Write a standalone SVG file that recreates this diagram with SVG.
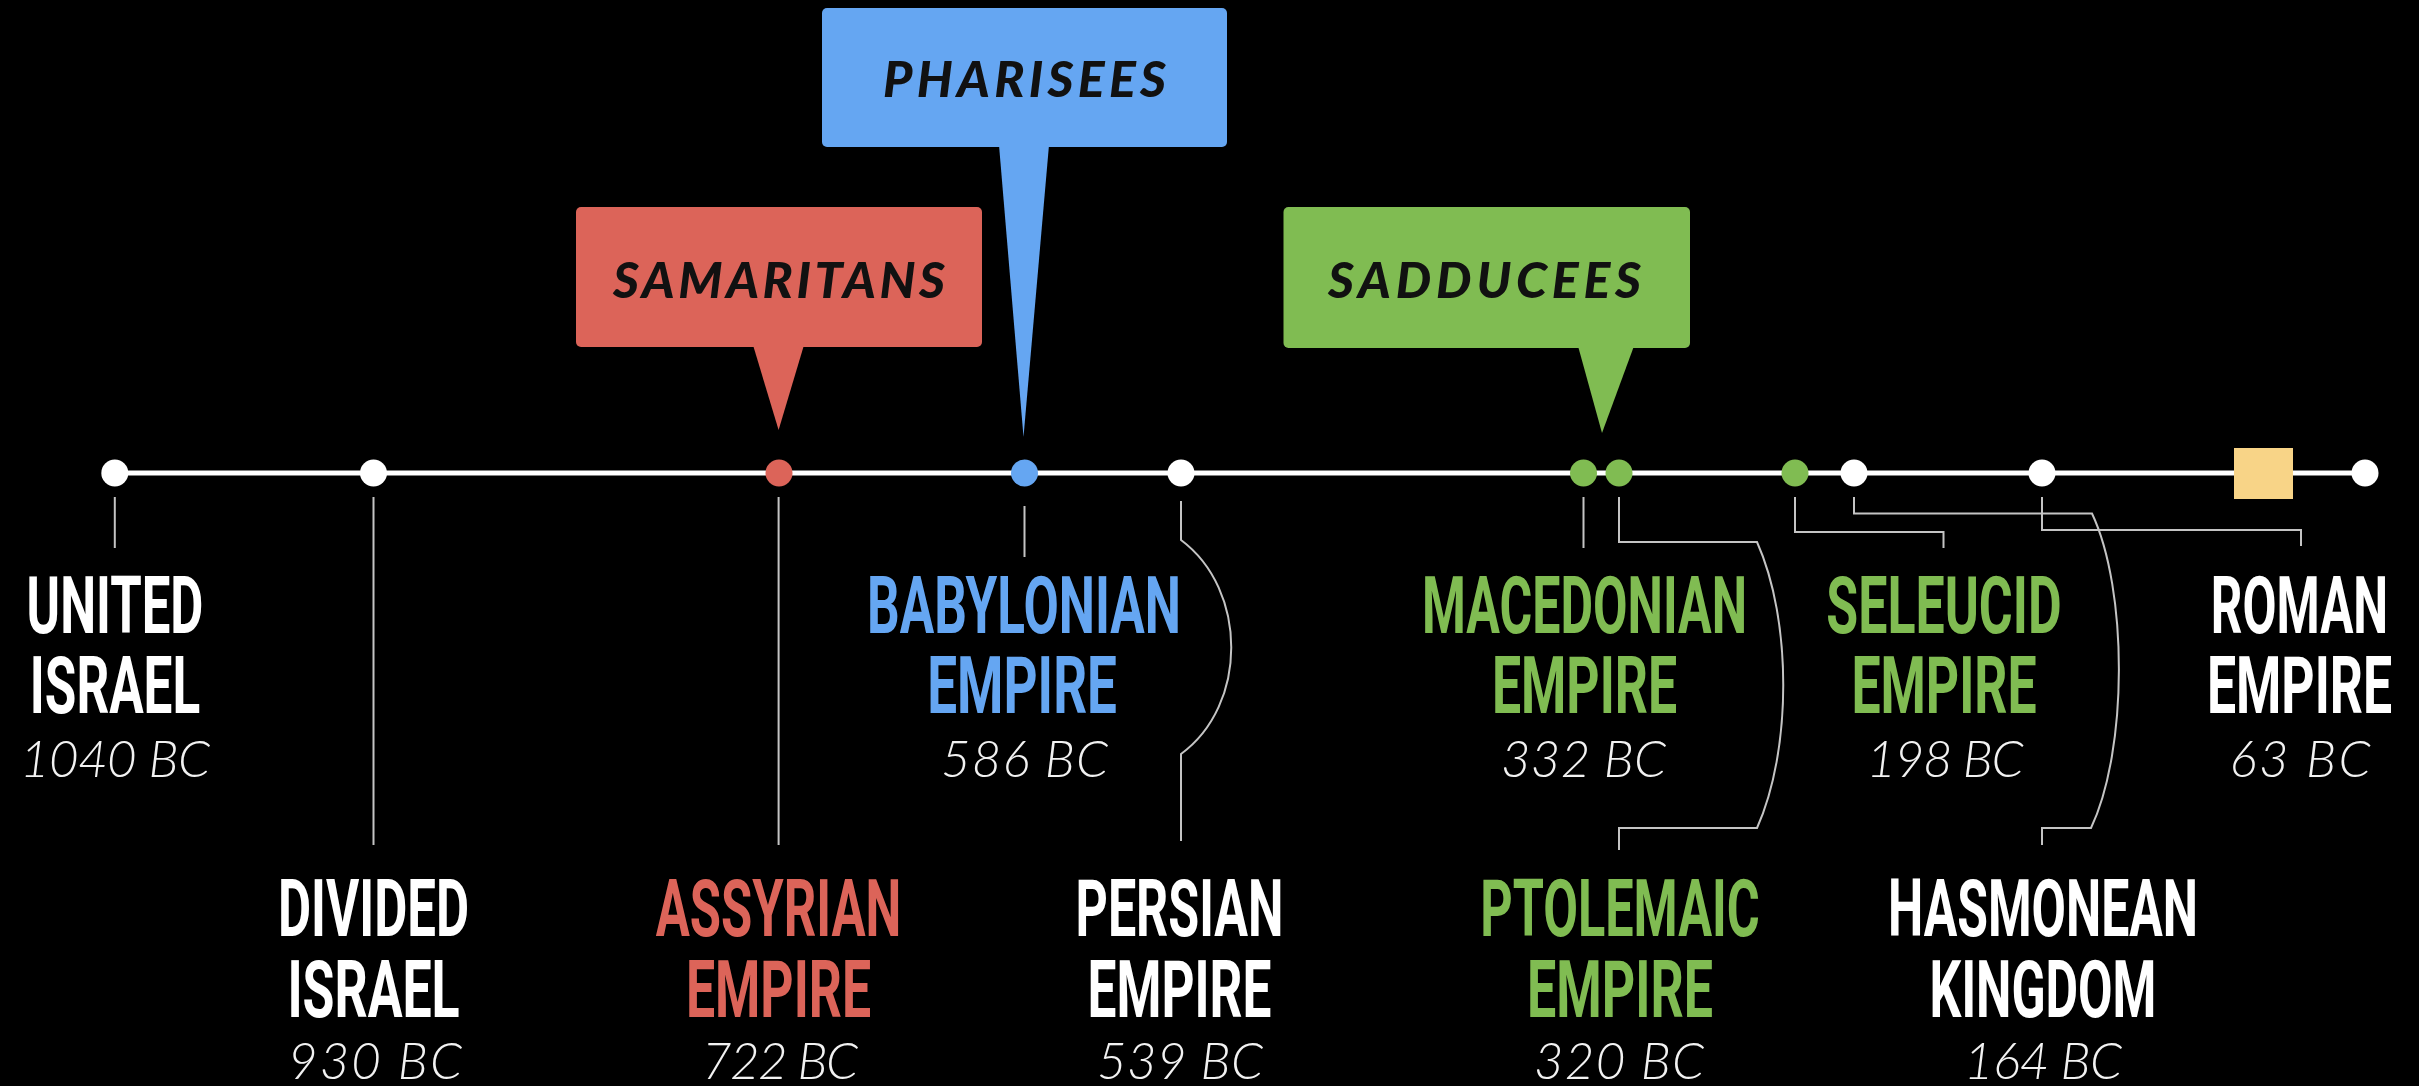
<svg xmlns="http://www.w3.org/2000/svg" width="2419" height="1086" viewBox="0 0 2419 1086">
<style>
.bg{fill:#000}
.tl{stroke:#fff;stroke-width:5;fill:none}
.con{stroke:#c4c4c4;stroke-width:2;fill:none}
.lbl{font-family:Roboto,"Liberation Sans",sans-serif;font-weight:700;font-size:79px;text-anchor:middle}
.date{font-family:Lato,"Open Sans",sans-serif;font-weight:300;font-style:italic;font-size:51px;text-anchor:middle;fill:#f2f2f2}
.bub{font-family:Lato,"Open Sans",sans-serif;font-weight:900;font-style:italic;font-size:50px;text-anchor:middle;fill:#111}
.w{fill:#fff}
.r{fill:#dc6459}
.b{fill:#65a6f2}
.g{fill:#80bc52}
</style>
<rect class="bg" x="0" y="0" width="2419" height="1086"/>

<g id="connectors">
<path class="con" d="M114.8,497 V548"/>
<path class="con" d="M373.5,497 V845"/>
<path class="con" d="M778.6,497 V845"/>
<path class="con" d="M1024.5,506 V557"/>
<path class="con" d="M1181,501 V540 C1248,590 1248,705 1181,754 V841"/>
<path class="con" d="M1583.5,497 V548"/>
<path class="con" d="M1619,497 V542 H1757 C1792,620 1792,750 1757,828 H1619 V850"/>
<path class="con" d="M1795,497 V532 H1943.5 V548"/>
<path class="con" d="M1854,497 V513.5 H2092 C2128,590 2128,750 2091,828 H2042 V845"/>
<path class="con" d="M2042,497 V530 H2301 V546"/>
</g>

<g id="timeline">
<line class="tl" x1="114.8" y1="473" x2="2365" y2="473"/>
<circle class="w" cx="114.8" cy="473" r="13.5"/>
<circle class="w" cx="373.5" cy="473" r="13.5"/>
<circle class="r" cx="779" cy="473" r="13.5"/>
<circle class="b" cx="1024.5" cy="473" r="13.5"/>
<circle class="w" cx="1181" cy="473" r="13.5"/>
<circle class="g" cx="1583.5" cy="473" r="13.5"/>
<circle class="g" cx="1619" cy="473" r="13.5"/>
<circle class="g" cx="1795" cy="473" r="13.5"/>
<circle class="w" cx="1854" cy="473" r="13.5"/>
<circle class="w" cx="2042" cy="473" r="13.5"/>
<circle class="w" cx="2365" cy="473" r="13.5"/>
<rect x="2234" y="448" width="59" height="51" fill="#f8d487"/>
</g>

<g id="samaritans">
<rect class="r" x="576" y="207" width="406" height="140" rx="5"/>
<polygon class="r" points="753,345 804,345 778.6,430"/>
<text class="bub" x="779" y="298" textLength="332" lengthAdjust="spacing">SAMARITANS</text>
</g>
<g id="pharisees">
<rect class="b" x="822" y="8" width="405" height="139" rx="5"/>
<polygon class="b" points="999,145 1049,145 1023.5,437"/>
<text class="bub" x="1024.5" y="97" textLength="283" lengthAdjust="spacing">PHARISEES</text>
</g>
<g id="sadducees">
<rect class="g" x="1283.5" y="207" width="406.5" height="141" rx="5"/>
<polygon class="g" points="1578,346 1634,346 1602,433"/>
<text class="bub" x="1484.5" y="298" textLength="313" lengthAdjust="spacing">SADDUCEES</text>
</g>

<g id="united-israel">
<g transform="translate(115,0) scale(0.65,1)">
<text class="lbl w"><tspan x="0" y="633" textLength="272" lengthAdjust="spacingAndGlyphs">UNITED</tspan><tspan x="0" y="713" textLength="262" lengthAdjust="spacingAndGlyphs">ISRAEL</tspan></text>
</g>
<text class="date" x="115" y="777" textLength="190" lengthAdjust="spacing">1040 BC</text>
</g>
<g id="divided-israel">
<g transform="translate(373.5,0) scale(0.65,1)">
<text class="lbl w"><tspan x="0" y="936" textLength="294" lengthAdjust="spacingAndGlyphs">DIVIDED</tspan><tspan x="0" y="1017" textLength="265" lengthAdjust="spacingAndGlyphs">ISRAEL</tspan></text>
</g>
<text class="date" x="375" y="1079" textLength="174" lengthAdjust="spacing">930 BC</text>
</g>
<g id="assyrian-empire">
<g transform="translate(778.5,0) scale(0.65,1)">
<text class="lbl r"><tspan x="0" y="936" textLength="378" lengthAdjust="spacingAndGlyphs">ASSYRIAN</tspan><tspan x="0" y="1017" textLength="285" lengthAdjust="spacingAndGlyphs">EMPIRE</tspan></text>
</g>
<text class="date" x="780" y="1079" textLength="156" lengthAdjust="spacing">722 BC</text>
</g>
<g id="babylonian-empire">
<g transform="translate(1024,0) scale(0.65,1)">
<text class="lbl b"><tspan x="0" y="633" textLength="483" lengthAdjust="spacingAndGlyphs">BABYLONIAN</tspan><tspan x="-3" y="713" textLength="292" lengthAdjust="spacingAndGlyphs">EMPIRE</tspan></text>
</g>
<text class="date" x="1024.5" y="777" textLength="167" lengthAdjust="spacing">586 BC</text>
</g>
<g id="persian-empire">
<g transform="translate(1179.5,0) scale(0.65,1)">
<text class="lbl w"><tspan x="0" y="936" textLength="320" lengthAdjust="spacingAndGlyphs">PERSIAN</tspan><tspan x="0" y="1017" textLength="283" lengthAdjust="spacingAndGlyphs">EMPIRE</tspan></text>
</g>
<text class="date" x="1180" y="1079" textLength="166" lengthAdjust="spacing">539 BC</text>
</g>
<g id="macedonian-empire">
<g transform="translate(1584.5,0) scale(0.65,1)">
<text class="lbl g"><tspan x="0" y="633" textLength="500" lengthAdjust="spacingAndGlyphs">MACEDONIAN</tspan><tspan x="0" y="713" textLength="285" lengthAdjust="spacingAndGlyphs">EMPIRE</tspan></text>
</g>
<text class="date" x="1583.5" y="777" textLength="165" lengthAdjust="spacing">332 BC</text>
</g>
<g id="ptolemaic-empire">
<g transform="translate(1620,0) scale(0.65,1)">
<text class="lbl g"><tspan x="0" y="936" textLength="430" lengthAdjust="spacingAndGlyphs">PTOLEMAIC</tspan><tspan x="0" y="1017" textLength="286" lengthAdjust="spacingAndGlyphs">EMPIRE</tspan></text>
</g>
<text class="date" x="1619" y="1079" textLength="170" lengthAdjust="spacing">320 BC</text>
</g>
<g id="seleucid-empire">
<g transform="translate(1944,0) scale(0.65,1)">
<text class="lbl g"><tspan x="0" y="633" textLength="362" lengthAdjust="spacingAndGlyphs">SELEUCID</tspan><tspan x="0" y="713" textLength="285" lengthAdjust="spacingAndGlyphs">EMPIRE</tspan></text>
</g>
<text class="date" x="1945" y="777" textLength="157" lengthAdjust="spacing">198 BC</text>
</g>
<g id="hasmonean-kingdom">
<g transform="translate(2043,0) scale(0.65,1)">
<text class="lbl w"><tspan x="0" y="936" textLength="477" lengthAdjust="spacingAndGlyphs">HASMONEAN</tspan><tspan x="0" y="1017" textLength="349" lengthAdjust="spacingAndGlyphs">KINGDOM</tspan></text>
</g>
<text class="date" x="2043" y="1079" textLength="158" lengthAdjust="spacing">164 BC</text>
</g>
<g id="roman-empire">
<g transform="translate(2299.5,0) scale(0.65,1)">
<text class="lbl w"><tspan x="0" y="633" textLength="273" lengthAdjust="spacingAndGlyphs">ROMAN</tspan><tspan x="0" y="713" textLength="285" lengthAdjust="spacingAndGlyphs">EMPIRE</tspan></text>
</g>
<text class="date" x="2300" y="777" textLength="141" lengthAdjust="spacing">63 BC</text>
</g>
</svg>
